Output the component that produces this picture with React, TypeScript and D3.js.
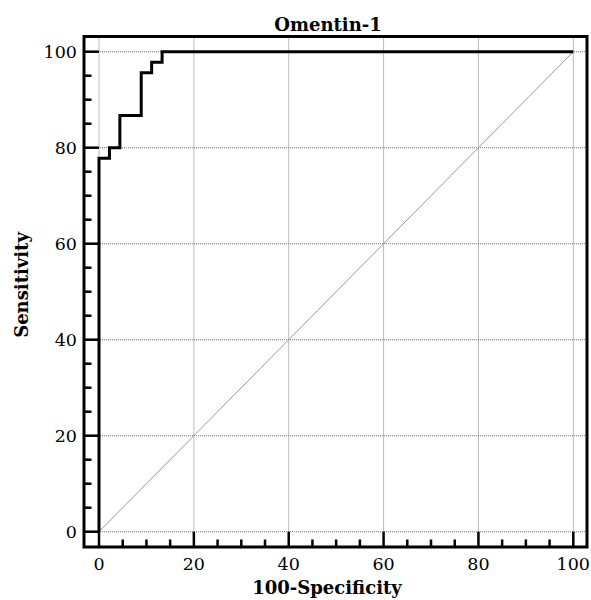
import React from "react";
import * as d3 from "d3";

const rocX = [0, 0, 2.2, 2.2, 4.4, 4.4, 8.9, 8.9, 11.1, 11.1, 13.3, 13.3, 100];
const rocY = [0, 77.8, 77.8, 80, 80, 86.7, 86.7, 95.6, 95.6, 97.8, 97.8, 100, 100];
const majorTicks = [0, 20, 40, 60, 80, 100];
const minorTicks = [5, 10, 15, 25, 30, 35, 45, 50, 55, 65, 70, 75, 85, 90, 95];
const titleText = "Omentin-1";
const xLabel = "100-Specificity";
const yLabel = "Sensitivity";

const W = 591;
const H = 600;
const frame = { left: 84, right: 587, top: 36.5, bottom: 547 };
const FONT = "'DejaVu Serif', serif";

export default function App() {
  const x = d3.scaleLinear().domain([0, 100]).range([99, 573.3]);
  const y = d3.scaleLinear().domain([0, 100]).range([531.7, 51.7]);
  const pts: [number, number][] = rocX.map((v, i) => [v, rocY[i]]);
  const line = d3
    .line<[number, number]>()
    .x((d) => x(d[0]))
    .y((d) => y(d[1]));

  return (
    <svg
      width={W}
      height={H}
      style={{ position: "absolute", left: 0, top: 0, background: "#fff" }}
      fontFamily={FONT}
    >
      <rect x={0} y={0} width={W} height={H} fill="#fff" />
      {/* grid */}
      {majorTicks.map((t) => (
        <line
          key={"gx" + t}
          x1={x(t)}
          x2={x(t)}
          y1={frame.top}
          y2={frame.bottom}
          stroke="#777"
          strokeWidth={1}
          strokeDasharray="1,1"
        />
      ))}
      {majorTicks.map((t) => (
        <line
          key={"gy" + t}
          x1={frame.left}
          x2={frame.right}
          y1={y(t)}
          y2={y(t)}
          stroke="#777"
          strokeWidth={1}
          strokeDasharray="1,1"
        />
      ))}
      {/* diagonal */}
      <line x1={x(0)} y1={y(0)} x2={x(100)} y2={y(100)} stroke="#999" strokeWidth={1} />
      {/* ticks */}
      {majorTicks.map((t) => (
        <g key={"mt" + t}>
          <line x1={x(t)} x2={x(t)} y1={frame.bottom} y2={y(0)} stroke="#000" strokeWidth={2.5} />
          <line x1={frame.left} x2={x(0)} y1={y(t)} y2={y(t)} stroke="#000" strokeWidth={2.5} />
          <text x={x(t)} y={569.5} textAnchor="middle" fontSize={17.5} fill="#000">
            {t}
          </text>
          <text x={77} y={y(t)} dy="0.36em" textAnchor="end" fontSize={17.5} fill="#000">
            {t}
          </text>
        </g>
      ))}
      {minorTicks.map((t) => (
        <g key={"mn" + t}>
          <line x1={x(t)} x2={x(t)} y1={frame.bottom} y2={frame.bottom - 7.5} stroke="#000" strokeWidth={2.5} />
          <line x1={frame.left} x2={frame.left + 7.5} y1={y(t)} y2={y(t)} stroke="#000" strokeWidth={2.5} />
        </g>
      ))}
      {/* frame */}
      <rect
        x={frame.left}
        y={frame.top}
        width={frame.right - frame.left}
        height={frame.bottom - frame.top}
        fill="none"
        stroke="#000"
        strokeWidth={3}
      />
      {/* ROC curve */}
      <path d={line(pts) || ""} fill="none" stroke="#000" strokeWidth={3} strokeLinejoin="miter" />
      {/* titles */}
      <text x={328} y={31} textAnchor="middle" fontSize={18} fontWeight="bold">
        {titleText}
      </text>
      <text x={327} y={594} textAnchor="middle" fontSize={18} fontWeight="bold">
        {xLabel}
      </text>
      <text
        transform="translate(28, 285) rotate(-90)"
        textAnchor="middle"
        fontSize={18}
        fontWeight="bold"
      >
        {yLabel}
      </text>
    </svg>
  );
}
